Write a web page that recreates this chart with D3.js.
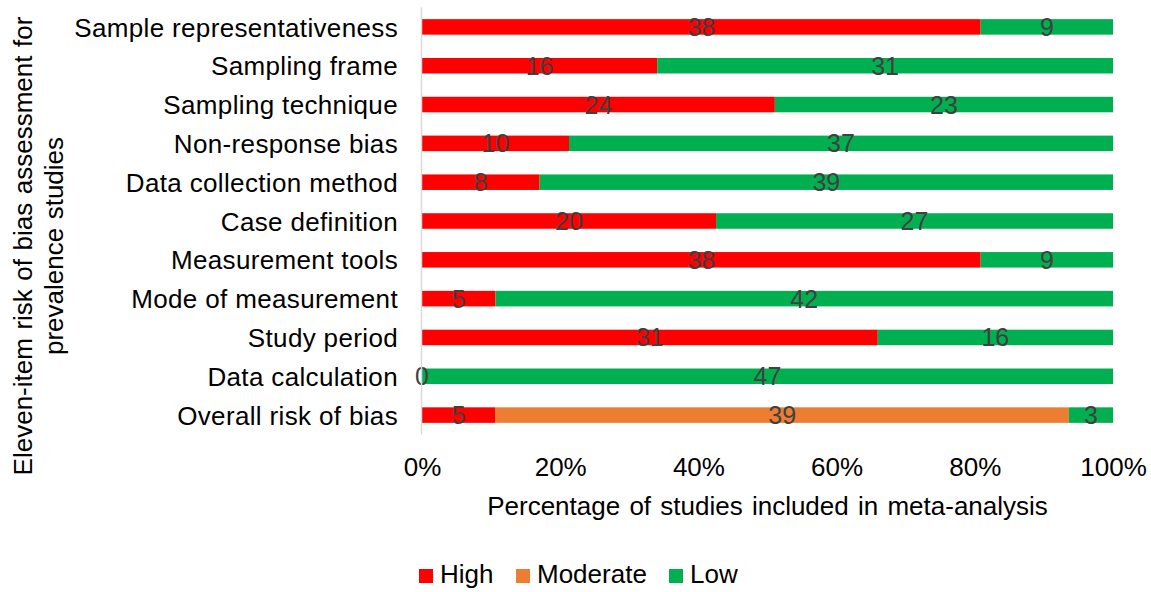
<!DOCTYPE html>
<html>
<head>
<meta charset="utf-8">
<script src="https://cdn.jsdelivr.net/npm/d3@7"></script>
<style>
  html, body { margin: 0; padding: 0; background: #fff; }
  svg { display: block; font-family: "Liberation Sans", Arial, sans-serif; }
</style>
</head>
<body>
<svg id="chart" width="1151" height="592"></svg>
<script>
// Risk-of-bias items, top to bottom
const categories = [
  "Sample representativeness",
  "Sampling frame",
  "Sampling technique",
  "Non-response bias",
  "Data collection method",
  "Case definition",
  "Measurement tools",
  "Mode of measurement",
  "Study period",
  "Data calculation",
  "Overall risk of bias"
];
// Number of studies per rating
const high     = [38, 16, 24, 10, 8, 20, 38, 5, 31, 0, 5];
const moderate = [0, 0, 0, 0, 0, 0, 0, 0, 0, 0, 39];
const low      = [9, 31, 23, 37, 39, 27, 9, 42, 16, 47, 3];
const seriesNames = ["High", "Moderate", "Low"];
const seriesColors = ["#FF0000", "#ED7D31", "#00B050"];
const xTicks = [0, 0.2, 0.4, 0.6, 0.8, 1.0];

const svg = d3.select("#chart");
const plotLeft = 422, plotRight = 1113, plotTop = 7.5, plotBottom = 434.5;
const fontSize = 26;

const rows = categories.map((c, i) => {
  const vals = [high[i], moderate[i], low[i]];
  const total = d3.sum(vals);
  let acc = 0;
  const segs = vals.map((v, k) => {
    const s = { key: seriesNames[k], k, v, x0: acc / total, x1: (acc + v) / total };
    acc += v;
    return s;
  });
  return { cat: c, segs };
});

const x = d3.scaleLinear().domain([0, 1]).range([plotLeft, plotRight]);
const y = d3.scaleBand().domain(categories).range([plotTop, plotBottom]).paddingInner(0.6).paddingOuter(0.3);

// Bars
const g = svg.append("g");
rows.forEach(r => {
  const row = g.append("g");
  row.selectAll("rect")
    .data(r.segs.filter(s => s.v > 0))
    .join("rect")
    .attr("x", s => x(s.x0))
    .attr("width", s => x(s.x1) - x(s.x0))
    .attr("y", y(r.cat))
    .attr("height", y.bandwidth())
    .attr("fill", s => seriesColors[s.k]);
  // Value labels (moderate shown only where non-zero)
  row.selectAll("text")
    .data(r.segs.filter(s => s.k !== 1 || s.v > 0))
    .join("text")
    .attr("x", s => (x(s.x0) + x(s.x1)) / 2)
    .attr("y", y(r.cat) + y.bandwidth() / 2)
    .attr("dy", "0.36em")
    .attr("text-anchor", "middle")
    .attr("font-size", 25)
    .attr("fill", "#404040")
    .text(s => s.v);
});

// Category axis line
svg.append("line")
  .attr("x1", plotLeft - 0.5).attr("x2", plotLeft - 0.5)
  .attr("y1", plotTop).attr("y2", plotBottom)
  .attr("stroke", "#d9d9d9").attr("stroke-width", 1.5);

// Category labels
svg.append("g").selectAll("text")
  .data(categories)
  .join("text")
  .attr("x", 398)
  .attr("y", d => y(d) + y.bandwidth() / 2)
  .attr("dy", "0.37em")
  .attr("text-anchor", "end")
  .attr("font-size", fontSize)
  .attr("letter-spacing", 0.35)
  .attr("fill", "#000")
  .text(d => d);

// Percentage axis
const xAxis = svg.append("g")
  .attr("transform", `translate(0,${plotBottom})`)
  .call(d3.axisBottom(x).tickValues(xTicks).tickFormat(d3.format(".0%")).tickSize(0).tickPadding(23));
xAxis.select(".domain").remove();
xAxis.selectAll("text").attr("font-size", fontSize).attr("fill", "#000")
  .attr("font-family", "'Liberation Sans', Arial, sans-serif");

// Axis titles
svg.append("text")
  .attr("x", (plotLeft + plotRight) / 2)
  .attr("y", 515)
  .attr("text-anchor", "middle")
  .attr("font-size", fontSize)
  .attr("word-spacing", 2)
  .text("Percentage of studies included in meta-analysis");

const yTitle = svg.append("text")
  .attr("transform", "translate(0,246) rotate(-90)")
  .attr("text-anchor", "middle")
  .attr("font-size", fontSize)
  .attr("word-spacing", 1.3);
yTitle.append("tspan").attr("x", 0).attr("y", 32).text("Eleven-item risk of bias assessment for");
yTitle.append("tspan").attr("x", 0).attr("y", 63).text("prevalence studies");

// Legend
const legendItems = [
  { name: "High", x: 419 },
  { name: "Moderate", x: 516 },
  { name: "Low", x: 669 }
];
const lg = svg.append("g").selectAll("g")
  .data(legendItems)
  .join("g")
  .attr("transform", d => `translate(${d.x},576)`);
lg.append("rect")
  .attr("x", 0).attr("y", -7)
  .attr("width", 14).attr("height", 14)
  .attr("fill", (d, i) => seriesColors[i]);
lg.append("text")
  .attr("x", 21).attr("y", 7)
  .attr("font-size", fontSize)
  .text(d => d.name);
</script>
</body>
</html>
